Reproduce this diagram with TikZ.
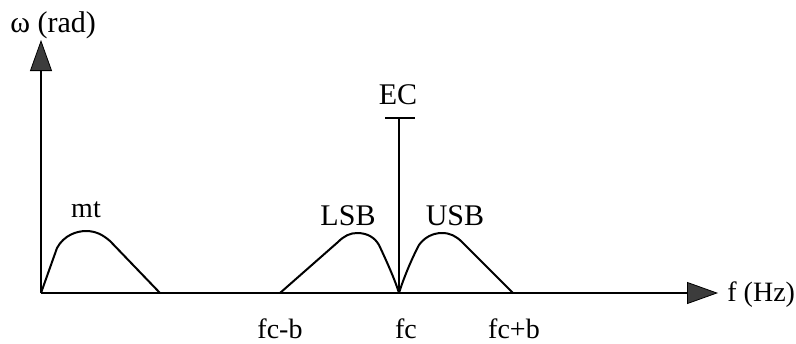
\documentclass[tikz,border=0pt]{standalone}
\usepackage{fontspec}
\setmainfont{Liberation Serif}
\usetikzlibrary{arrows.meta}
\definecolor{tipgray}{HTML}{3C3C3C}
\tikzset{
  axis/.style={line width=1.2pt, -{Triangle[length=15.5pt,width=11pt,fill=tipgray,line width=0.4pt]}},
  curve/.style={line width=1pt, line join=round},
  lbl/.style={inner sep=0pt, anchor=base, font=\fontsize{14}{16}\selectfont},
  biglbl/.style={lbl, font=\fontsize{15}{17}\selectfont},
}
\begin{document}
\begin{tikzpicture}[x=0.5pt,y=-0.5pt]
\useasboundingbox (0,0) rectangle (796,343);
% axes
\coordinate (o) at (41,293);
\coordinate (ytop) at (41,40);
\coordinate (xend) at (718,293);
\draw[axis] (o) -- (ytop);
\draw[axis] (o) -- (xend);
\node[biglbl, anchor=base west] (ylab) at (10,32) {ω (rad)};
\node[lbl, anchor=base west] (xlab) at (727,301) {f (Hz)};
% mt bump
\coordinate (m0) at (41,293);
\coordinate (m1) at (160,293);
\draw[curve] (m0) -- (57,248) .. controls (64,235) and (77,231) .. (86,231)
  .. controls (96,231) and (103,235) .. (110,241) -- (m1);
\node[lbl] (mt) at (86,217) {mt};
% carrier
\coordinate (fc) at (399,293);
\coordinate (ectop) at (399,118);
\coordinate (ecl) at (385,118);
\coordinate (ecr) at (415,118);
\draw[line width=1pt] (fc) -- (ectop);
\draw[line width=1.2pt] (ecl) -- (ecr);
\node[biglbl] (ec) at (398,104) {EC};
% LSB
\coordinate (l0) at (280,293);
\draw[curve] (l0) -- (338,242) .. controls (344,236) and (350,233) .. (357,233)
  .. controls (368,233) and (375,238) .. (379,245) .. controls (387,262) and (395,280) .. (fc);
\node[biglbl] (lsb) at (348,225) {LSB};
% USB
\coordinate (u1) at (513,293);
\draw[curve] (fc) .. controls (403,280) and (411,260) .. (419,245)
  .. controls (424,238) and (432,233) .. (442,233)
  .. controls (450,233) and (456,236) .. (462,242) -- (u1);
\node[biglbl] (usb) at (455,225) {USB};
% frequency labels
\node[lbl] (fcb) at (280,338) {fc-b};
\node[lbl] (fcl) at (406,338) {fc};
\node[lbl] (fcpb) at (514,338) {fc+b};
\end{tikzpicture}
\end{document}
